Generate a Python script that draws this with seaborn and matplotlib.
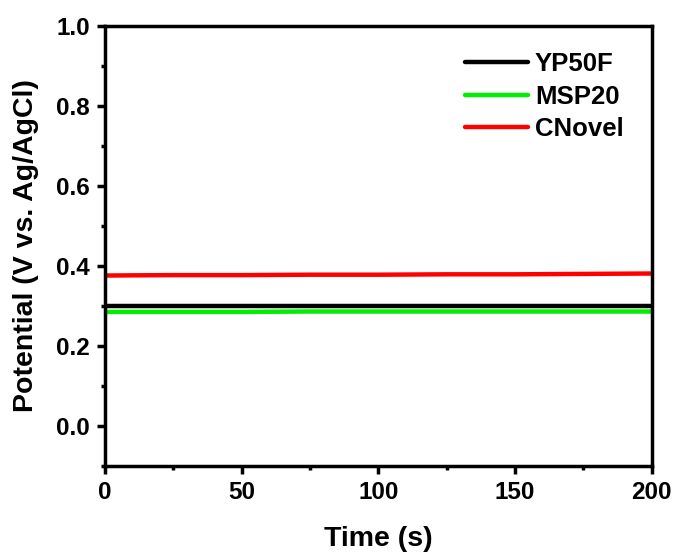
import matplotlib
matplotlib.use("Agg")
import matplotlib.pyplot as plt
import seaborn as sns
import pandas as pd
from matplotlib.ticker import MultipleLocator

time_s = [0, 25, 50, 75, 100, 125, 150, 175, 200]
yp50f = [0.301, 0.301, 0.301, 0.301, 0.301, 0.301, 0.301, 0.301, 0.301]
msp20 = [0.285, 0.285, 0.285, 0.286, 0.286, 0.286, 0.286, 0.286, 0.286]
cnovel = [0.376, 0.377, 0.377, 0.378, 0.378, 0.379, 0.379, 0.380, 0.381]
series_names = ["YP50F", "MSP20", "CNovel"]
series_colors = ["#000000", "#00ee00", "#ff0000"]

sns.set_style("ticks")
plt.rcParams['font.family'] = ['Liberation Sans', 'DejaVu Sans']
plt.rcParams['font.weight'] = 'bold'
plt.rcParams['text.color'] = 'black'
plt.rcParams['axes.labelcolor'] = 'black'
plt.rcParams['xtick.color'] = 'black'
plt.rcParams['ytick.color'] = 'black'

rows = []
for name, vals in zip(series_names, [yp50f, msp20, cnovel]):
    for t, v in zip(time_s, vals):
        rows.append({"Time": t, "Potential": v, "Sample": name})
df = pd.DataFrame(rows)

fig = plt.figure(figsize=(6.74, 5.52), dpi=100)
ax = fig.add_axes([0.156, 0.156, 0.811, 0.797])
sns.lineplot(data=df, x="Time", y="Potential", hue="Sample",
             hue_order=series_names, palette=series_colors,
             linewidth=3.2, ax=ax, legend=True)

ax.set_xlim(0, 200)
ax.set_ylim(-0.1, 1.0)
ax.xaxis.set_major_locator(MultipleLocator(50))
ax.xaxis.set_minor_locator(MultipleLocator(25))
ax.yaxis.set_minor_locator(MultipleLocator(0.1))
ax.set_yticks([0.0, 0.2, 0.4, 0.6, 0.8, 1.0])
ax.yaxis.set_major_formatter(matplotlib.ticker.FormatStrFormatter('%.1f'))

for sp in ax.spines.values():
    sp.set_linewidth(2.5)
    sp.set_color('black')
    sp.set_visible(True)

ax.tick_params(which='major', direction='out', length=6, width=2.5,
               labelsize=17.5, pad=5, top=False, right=False,
               colors='black')
ax.tick_params(which='minor', direction='out', length=3, width=2.5,
               top=False, right=False, colors='black')
for lab in ax.get_xticklabels() + ax.get_yticklabels():
    lab.set_fontweight('bold')
    lab.set_color('black')

ax.set_xlabel("Time (s)", fontsize=20.5, fontweight='bold', labelpad=16, color='black')
ax.set_ylabel("Potential (V vs. Ag/AgCl)", fontsize=20.5, fontweight='bold', labelpad=12, color='black')

leg = ax.legend(loc='upper right', frameon=False, fontsize=18.5,
                handlelength=2.45, handletextpad=0.27, labelspacing=0.33,
                bbox_to_anchor=(0.991, 0.993))
for t in leg.get_texts():
    t.set_fontweight('bold')
    t.set_color('black')
for l in leg.get_lines():
    l.set_linewidth(3.2)

fig.savefig("out.png", dpi=100)
